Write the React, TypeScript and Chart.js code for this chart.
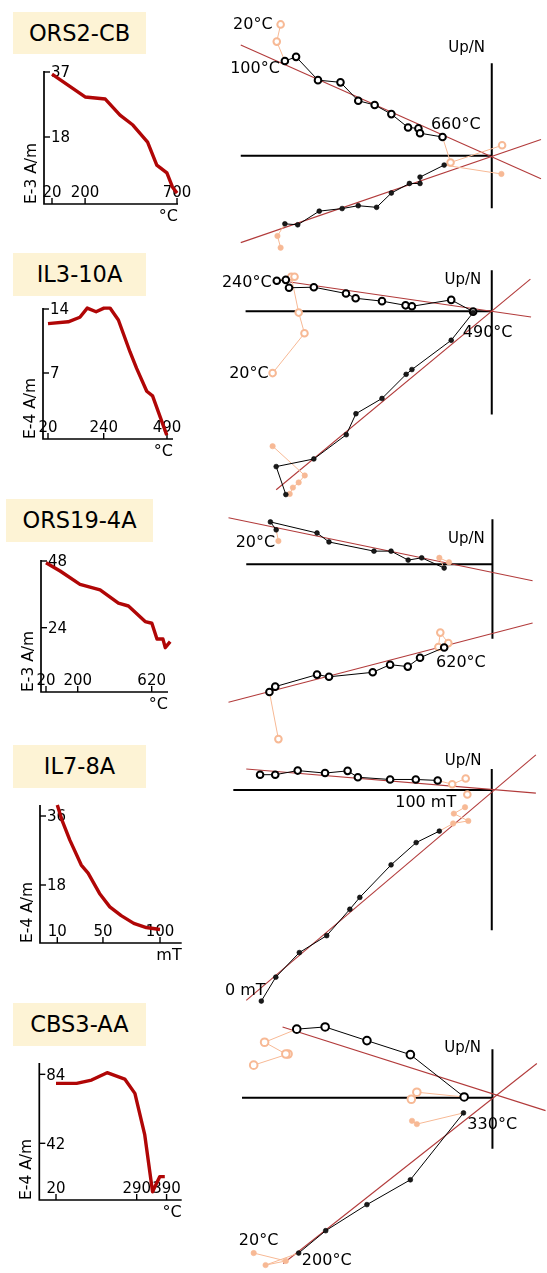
import React, { useEffect, useRef } from "react";
import { Chart, registerables } from "chart.js";

Chart.register(...registerables);

type P = [number, number];
const FONT = '"DejaVu Sans", "Noto Sans", sans-serif';
const CURVE = "#b00606";
const FIT = "#b23b3b";
const ORANGE = "#f7b995";
const INK = "#000";
const BOX_BG = "#fdf3d5";

// ================= Intensity decay data =================
const ors2Steps = [20, 200, 310, 390, 460, 540, 590, 645, 675, 700];
const ors2Intensity = [36.4, 29.7, 29.1, 24.4, 21.5, 16.5, 9.8, 7.5, 3.4, 1.6];
const ors2XTicks = [20, 200, 700];
const ors2YTicks = [18, 37];

const il3Steps = [20, 100, 146, 175, 210, 241, 265, 298, 344, 370, 410, 433, 489];
const il3Intensity = [12.4, 12.6, 13.1, 14.1, 13.7, 14.1, 14.1, 12.8, 9.3, 7.5, 5.0, 4.5, 0.2];
const il3XTicks = [20, 240, 490];
const il3YTicks = [7, 14];

const ors19Steps = [20, 100, 213, 327, 431, 488, 583, 621, 650, 684, 697, 725];
const ors19Intensity = [47.4, 44.4, 39.6, 37.6, 32.8, 31.8, 26.2, 25.6, 19.9, 19.9, 16.8, 19.0];
const ors19XTicks = [20, 200, 620];
const ors19YTicks = [24, 48];

const il7Steps = [10, 14, 21, 31, 37, 47, 56, 66, 77, 88, 100];
const il7Intensity = [38.9, 35.0, 29.7, 23.2, 21.1, 15.8, 12.3, 10.0, 8.0, 6.9, 6.4];
const il7XTicks = [10, 50, 100];
const il7YTicks = [18, 36];

const cbs3Steps = [20, 89, 139, 191, 250, 284, 317, 343, 367, 384];
const cbs3Intensity = [78.5, 78.5, 80.5, 85.0, 81.1, 72.4, 47.1, 12.5, 21.7, 21.7];
const cbs3XTicks = [20, 290, 390];
const cbs3YTicks = [42, 84];

// ================= Zijderveld data (x = N/E component, y = Up/N) =================
// ORS2-CB
const ors2OpenPre: P[] = [[-218.7, 137.7], [-222.7, 119.7]];
const ors2OpenMain: P[] = [[-214.3, 99.3], [-202.7, 103.7], [-180, 79.3], [-156.7, 77], [-138.3, 57.7], [-121.3, 53.3], [-104, 43.7], [-86.7, 29.7], [-76, 28.7], [-74.3, 23.7], [-51, 19.7]];
const ors2OpenPost: P[] = [[-42.7, -7], [10.7, 11]];
const ors2FilledPre: P[] = [[-218.7, -96.3], [-222, -84]];
const ors2FilledMain: P[] = [[-214.3, -71.3], [-201, -72.3], [-178.7, -58], [-155, -55.3], [-138.3, -52.3], [-119.3, -54], [-104, -39], [-85.3, -29], [-74.3, -29], [-74.3, -22.3], [-49.3, -9.7]];
const ors2FilledPost: P[] = [[10, -19]];
const ors2Fits: [P, P][] = [[[-260, 116], [51, -24]], [[-260, -91], [51, 17]]];

// IL3-10A
const il3OpenPre: P[] = [[-227, -64.7], [-194, -23], [-200, -1.3], [-207.7, 36.3], [-204.3, 36.3]];
const il3OpenMain: P[] = [[-222.7, 32], [-213.3, 33], [-210, 24.7], [-184.3, 25.3], [-151, 18.7], [-141, 13.7], [-113.7, 10.7], [-89.3, 6.3], [-82.7, 5.3], [-42, 12], [-19.3, -0.3]];
const il3OpenPost: P[] = [];
const il3FilledPre: P[] = [[-227, -141.3], [-193.7, -172], [-200, -179.3], [-206, -184.7], [-209.3, -191.3]];
const il3FilledMain: P[] = [[-213.3, -192], [-223.3, -162.7], [-184.3, -154.7], [-150.7, -129.3], [-140.7, -107.3], [-113.7, -91.3], [-88.7, -66], [-82.7, -61], [-42, -30.3], [-19.3, -1.3]];
const il3FilledPost: P[] = [];
const il3Fits: [P, P][] = [[[-209.3, 30.7], [40.7, -6]], [[-223.3, -187], [40, 33.7]]];

// ORS19-4A
const ors19OpenPre: P[] = [[-221.7, -183.3]];
const ors19OpenMain: P[] = [[-231, -134], [-225, -128.3], [-181.7, -115.7], [-169.3, -118], [-124, -113.3], [-106, -105.3], [-87.7, -107.3], [-75, -98], [-50, -87.3]];
const ors19OpenPost: P[] = [[-56, -86.7], [-54, -71.7], [-45.7, -82.7]];
const ors19FilledPre: P[] = [[-221.7, 24.3]];
const ors19FilledMain: P[] = [[-224, 36], [-230, 44.3], [-181.7, 32.7], [-169.3, 23.3], [-122.7, 13.7], [-105, 13.7], [-87.3, 4.3], [-73.3, 6.7], [-50, -4]];
const ors19FilledPost: P[] = [[-55, 6.7], [-45, 2]];
const ors19Fits: [P, P][] = [[[-273.4, 48.7], [41.6, -17.3]], [[-273.4, -144.7], [41.6, -61.7]]];

// IL7-8A
const il7OpenPre: P[] = [];
const il7OpenMain: P[] = [[-240, 16], [-224.3, 16], [-201, 20.3], [-172.7, 17.7], [-149.3, 20], [-138.7, 13.3], [-105.3, 11], [-78.7, 11], [-56, 10]];
const il7OpenPost: P[] = [[-41, 6], [-27, 12]];
const il7OpenExtra: P[] = [[-25.3, -4.7]];
const il7FilledPre: P[] = [];
const il7FilledMain: P[] = [[-238.7, -220.7], [-223.7, -195.7], [-199.3, -170], [-171, -152.3], [-147, -124.7], [-136.7, -112.3], [-104.3, -78.3], [-78.3, -55], [-54.3, -43]];
const il7FilledPost: P[] = [[-40, -35], [-24.3, -32.3], [-39.3, -24.7], [-27.7, -18]];
const il7Fits: [P, P][] = [[[-254.3, 22], [45.7, -3.3]], [[-254.3, -220], [45.7, 36.7]]];

// CBS3-AA
const cbs3OpenPre: P[] = [[-247.3, 34], [-211.7, 45.7], [-214, 45.7], [-236, 58]];
const cbs3OpenMain: P[] = [[-202.7, 71.7], [-173.3, 74], [-130, 59.7], [-85, 45], [-29.3, 0.7]];
const cbs3OpenPost: P[] = [[-78.3, 5.7], [-84, -1.7]];
const cbs3FilledPre: P[] = [[-247.3, -162.7], [-214, -171], [-235, -175.3]];
const cbs3FilledMain: P[] = [[-200.7, -162.7], [-172.7, -139.3], [-130, -112], [-85, -86], [-30, -16]];
const cbs3FilledPost: P[] = [[-78.3, -27.7], [-83.3, -24.3]];
const cbs3Fits: [P, P][] = [[[-217.4, 74], [55, -13.6]], [[-216.7, -173.6], [46, 35.7]]];

// ================= Layout =================
const sampleNames = ["ORS2-CB", "IL3-10A", "ORS19-4A", "IL7-8A", "CBS3-AA"];
const boxes = [
  { left: 13, top: 12, width: 133, height: 42 },
  { left: 13, top: 253, width: 133, height: 43 },
  { left: 6, top: 499, width: 147, height: 43 },
  { left: 13, top: 745, width: 133, height: 43 },
  { left: 13, top: 1003, width: 133, height: 43 },
];

interface IntPanel {
  steps: number[]; values: number[]; xTicks: number[]; yTicks: number[];
  axis: { left: number; top: number; right: number; bottom: number };
  xRange: [number, number]; yRange: [number, number]; title: string; unit: string;
}

const intPanels: IntPanel[] = [
  { steps: ors2Steps, values: ors2Intensity, xTicks: ors2XTicks, yTicks: ors2YTicks, axis: { left: 44, top: 71, right: 178, bottom: 204 }, xRange: [-23.5, 705.4], yRange: [-1.58, 37.29], title: "E-3 A/m", unit: "\u00B0C" },
  { steps: il3Steps, values: il3Intensity, xTicks: il3XTicks, yTicks: il3YTicks, axis: { left: 43, top: 308, right: 173, bottom: 439 }, xRange: [0.25, 513.7], yRange: [-0.22, 14.11], title: "E-4 A/m", unit: "\u00B0C" },
  { steps: ors19Steps, values: ors19Intensity, xTicks: ors19XTicks, yTicks: ors19YTicks, axis: { left: 41, top: 560, right: 168, bottom: 692 }, xRange: [-8.4, 712.6], yRange: [0.85, 48.36], title: "E-3 A/m", unit: "\u00B0C" },
  { steps: il7Steps, values: il7Intensity, xTicks: il7XTicks, yTicks: il7YTicks, axis: { left: 40, top: 805, right: 181.7, bottom: 943 }, xRange: [-5.16, 119], yRange: [2.87, 38.87], title: "E-4 A/m", unit: "mT" },
  { steps: cbs3Steps, values: cbs3Intensity, xTicks: cbs3XTicks, yTicks: cbs3YTicks, axis: { left: 39.3, top: 1063, right: 181.7, bottom: 1200 }, xRange: [-35.9, 440.6], yRange: [7.5, 90.9], title: "E-4 A/m", unit: "\u00B0C" },
];

interface ZLabel { text: string; at: P; align: "left" | "right"; size: number }
interface ZijPanel {
  top: number; height: number; origin: P; hAxis: number; vAxis: [number, number];
  fits: [P, P][];
  openPre: P[]; openMain: P[]; openPost: P[]; openExtra?: P[];
  filledPre: P[]; filledMain: P[]; filledPost: P[];
  openR: number; labels: ZLabel[];
}

const C = "\u00B0C";
const zijPanels: ZijPanel[] = [
  {
    top: 0, height: 262, origin: [496, 157], hAxis: -260, vAxis: [97, -55], fits: ors2Fits,
    openPre: ors2OpenPre, openMain: ors2OpenMain, openPost: ors2OpenPost,
    filledPre: ors2FilledPre, filledMain: ors2FilledMain, filledPost: ors2FilledPost, openR: 3.3,
    labels: [
      { text: "20" + C, at: [-268, 138], align: "left", size: 16 },
      { text: "100" + C, at: [-271, 92], align: "left", size: 16 },
      { text: "660" + C, at: [-63, 34], align: "left", size: 16 },
      { text: "Up/N", at: [-45, 114], align: "left", size: 15 },
    ],
  },
  {
    top: 250, height: 262, origin: [496, 308], hAxis: -255, vAxis: [43, -108], fits: il3Fits,
    openPre: il3OpenPre, openMain: il3OpenMain, openPost: il3OpenPost,
    filledPre: il3FilledPre, filledMain: il3FilledMain, filledPost: il3FilledPost, openR: 3.3,
    labels: [
      { text: "240" + C, at: [-228, 31.3], align: "right", size: 16 },
      { text: "20" + C, at: [-272, -64.7], align: "left", size: 16 },
      { text: "490" + C, at: [-30, -22], align: "left", size: 16 },
      { text: "Up/N", at: [-49, 34], align: "left", size: 15 },
    ],
  },
  {
    top: 500, height: 262, origin: [496.7, 561], hAxis: -255, vAxis: [47, -78], fits: ors19Fits,
    openPre: ors19OpenPre, openMain: ors19OpenMain, openPost: ors19OpenPost,
    filledPre: ors19FilledPre, filledMain: ors19FilledMain, filledPost: ors19FilledPost, openR: 3.3,
    labels: [
      { text: "20" + C, at: [-266, 23], align: "left", size: 16 },
      { text: "620" + C, at: [-58.4, -102.3], align: "left", size: 16 },
      { text: "Up/N", at: [-46, 27], align: "left", size: 15 },
    ],
  },
  {
    top: 740, height: 275, origin: [496, 786], hAxis: -267.7, vAxis: [22, -146.7], fits: il7Fits,
    openPre: il7OpenPre, openMain: il7OpenMain, openPost: il7OpenPost, openExtra: il7OpenExtra,
    filledPre: il7FilledPre, filledMain: il7FilledMain, filledPost: il7FilledPost, openR: 3.3,
    labels: [
      { text: "100 mT", at: [-100, -12.3], align: "left", size: 16 },
      { text: "0 mT", at: [-234.3, -209], align: "right", size: 16 },
      { text: "Up/N", at: [-48.7, 31], align: "left", size: 15 },
    ],
  },
  {
    top: 1005, height: 268, origin: [496.7, 1095.7], hAxis: -259.4, vAxis: [50.7, -53.6], fits: cbs3Fits,
    openPre: cbs3OpenPre, openMain: cbs3OpenMain, openPost: cbs3OpenPost,
    filledPre: cbs3FilledPre, filledMain: cbs3FilledMain, filledPost: cbs3FilledPost, openR: 3.8,
    labels: [
      { text: "20" + C, at: [-262.7, -149.3], align: "left", size: 16 },
      { text: "200" + C, at: [-197.4, -169.3], align: "left", size: 16 },
      { text: "330" + C, at: [-26, -27.6], align: "left", size: 16 },
      { text: "Up/N", at: [-50, 53], align: "left", size: 15 },
    ],
  },
];

const INT_W = 200;
const ZIJ_LEFT = 200;
const ZIJ_W = 347;

// ================= Plugins =================
const intensityAxes = {
  id: "intensityAxes",
  beforeDatasetsDraw(chart: any, _a: any, opts: any) {
    const { ctx, chartArea: a, scales } = chart;
    const xs = scales.x, ys = scales.y;
    ctx.save();
    ctx.strokeStyle = INK;
    ctx.fillStyle = INK;
    ctx.lineWidth = 1.7;
    ctx.beginPath();
    ctx.moveTo(a.left, a.top);
    ctx.lineTo(a.left, a.bottom);
    ctx.lineTo(a.right, a.bottom);
    ctx.stroke();
    ctx.lineWidth = 1.4;
    ctx.font = `15px ${FONT}`;
    for (const v of opts.yTicks as number[]) {
      const y = ys.getPixelForValue(v);
      ctx.beginPath();
      ctx.moveTo(a.left, y);
      ctx.lineTo(a.left + 6, y);
      ctx.stroke();
      ctx.textAlign = "left";
      ctx.textBaseline = "middle";
      ctx.fillText(String(v), a.left + 7, y + 1.5);
    }
    for (const v of opts.xTicks as number[]) {
      const x = xs.getPixelForValue(v);
      ctx.beginPath();
      ctx.moveTo(x, a.bottom);
      ctx.lineTo(x, a.bottom - 6);
      ctx.stroke();
      ctx.textAlign = "center";
      ctx.textBaseline = "alphabetic";
      ctx.fillText(String(v), x, a.bottom - 7);
    }
    ctx.font = `16px ${FONT}`;
    ctx.textAlign = "right";
    ctx.textBaseline = "alphabetic";
    ctx.fillText(opts.unit, a.right, a.bottom + 17);
    ctx.translate(a.left - 12, a.bottom);
    ctx.rotate(-Math.PI / 2);
    ctx.font = `15.5px ${FONT}`;
    ctx.textAlign = "left";
    ctx.textBaseline = "middle";
    ctx.fillText(opts.title, 0, 0);
    ctx.restore();
  },
};

const zijDecor = {
  id: "zijDecor",
  beforeDatasetsDraw(chart: any, _a: any, opts: any) {
    const { ctx, scales } = chart;
    const xs = scales.x, ys = scales.y;
    ctx.save();
    ctx.strokeStyle = INK;
    ctx.lineWidth = 2;
    ctx.beginPath();
    ctx.moveTo(xs.getPixelForValue(opts.hAxis), ys.getPixelForValue(0));
    ctx.lineTo(xs.getPixelForValue(0), ys.getPixelForValue(0));
    ctx.moveTo(xs.getPixelForValue(0), ys.getPixelForValue(opts.vAxis[0]));
    ctx.lineTo(xs.getPixelForValue(0), ys.getPixelForValue(opts.vAxis[1]));
    ctx.stroke();
    ctx.restore();
  },
  afterDatasetsDraw(chart: any, _a: any, opts: any) {
    const { ctx, scales } = chart;
    const xs = scales.x, ys = scales.y;
    ctx.save();
    ctx.fillStyle = INK;
    ctx.textBaseline = "middle";
    for (const l of opts.labels as ZLabel[]) {
      ctx.font = `${l.size}px ${FONT}`;
      ctx.textAlign = l.align;
      ctx.fillText(l.text, xs.getPixelForValue(l.at[0]), ys.getPixelForValue(l.at[1]) + 1);
    }
    ctx.restore();
  },
};

// ================= Config builders =================
function intensityConfig(p: IntPanel): any {
  return {
    type: "line",
    data: {
      datasets: [
        {
          data: p.steps.map((s, i) => ({ x: s, y: p.values[i] })),
          borderColor: CURVE,
          borderWidth: 3.4,
          pointRadius: 0,
          tension: 0,
          fill: false,
          clip: false,
          borderJoinStyle: "round",
        },
      ],
    },
    options: {
      animation: false,
      responsive: false,
      events: [],
      layout: { padding: { left: p.axis.left, right: INT_W - p.axis.right, top: 20, bottom: 25 } },
      scales: {
        x: { type: "linear", display: false, min: p.xRange[0], max: p.xRange[1] },
        y: { type: "linear", display: false, min: p.yRange[0], max: p.yRange[1] },
      },
      plugins: {
        legend: { display: false },
        tooltip: { enabled: false },
        intensityAxes: { xTicks: p.xTicks, yTicks: p.yTicks, unit: p.unit, title: p.title },
      },
    },
    plugins: [intensityAxes],
  };
}

const toXY = (pts: P[]) => pts.map(([x, y]) => ({ x, y }));

function seqDatasets(pre: P[], main: P[], post: P[], open: boolean, r: number): any[] {
  const base = (color: string, fill: string) => ({
    showLine: true,
    borderColor: color,
    borderWidth: 1,
    pointBorderColor: color,
    pointBackgroundColor: fill,
    pointBorderWidth: open ? 2 : 0.6,
    pointStyle: "circle",
    clip: false,
    tension: 0,
  });
  const oFill = open ? "#ffffff" : ORANGE;
  const bFill = open ? "#ffffff" : "#1a1a1a";
  const radius = open ? r : 2.4;
  const oRadius = open ? r : 2.7;
  const out: any[] = [];
  if (pre.length) {
    out.push({
      ...base(ORANGE, oFill),
      data: toXY([...pre, main[0]]),
      pointRadius: [...pre.map(() => oRadius), 0],
      order: 2,
    });
  }
  if (post.length) {
    out.push({
      ...base(ORANGE, oFill),
      data: toXY([main[main.length - 1], ...post]),
      pointRadius: [0, ...post.map(() => oRadius)],
      order: 2,
    });
  }
  out.push({ ...base(INK, bFill), data: toXY(main), pointRadius: radius, order: 1 });
  return out;
}

function zijConfig(z: ZijPanel): any {
  const [ox, oy] = z.origin;
  const datasets: any[] = [];
  z.fits.forEach((f) => {
    datasets.push({
      data: toXY(f),
      showLine: true,
      borderColor: FIT,
      borderWidth: 1.1,
      pointRadius: 0,
      clip: false,
      order: 3,
    });
  });
  datasets.push(...seqDatasets(z.filledPre, z.filledMain, z.filledPost, false, z.openR));
  datasets.push(...seqDatasets(z.openPre, z.openMain, z.openPost, true, z.openR));
  if (z.openExtra) {
    datasets.push({
      data: toXY(z.openExtra),
      showLine: false,
      pointRadius: z.openR,
      pointBorderColor: ORANGE,
      pointBackgroundColor: "#ffffff",
      pointBorderWidth: 2,
      clip: false,
      order: 2,
    });
  }
  return {
    type: "scatter",
    data: { datasets },
    options: {
      animation: false,
      responsive: false,
      events: [],
      layout: { padding: 0 },
      scales: {
        x: { type: "linear", display: false, min: ZIJ_LEFT - ox, max: ZIJ_LEFT + ZIJ_W - ox },
        y: { type: "linear", display: false, min: oy - (z.top + z.height), max: oy - z.top },
      },
      plugins: {
        legend: { display: false },
        tooltip: { enabled: false },
        zijDecor: { hAxis: z.hAxis, vAxis: z.vAxis, labels: z.labels },
      },
    },
    plugins: [zijDecor],
  };
}

// ================= Components =================
function ChartCanvas(props: { left: number; top: number; width: number; height: number; make: () => any }) {
  const ref = useRef<HTMLCanvasElement>(null);
  useEffect(() => {
    const chart = new Chart(ref.current as HTMLCanvasElement, props.make());
    return () => chart.destroy();
  }, []);
  return (
    <canvas
      ref={ref}
      width={props.width}
      height={props.height}
      style={{ position: "absolute", left: props.left, top: props.top, width: props.width, height: props.height, display: "block" }}
    />
  );
}

export default function App() {
  useEffect(() => {
    document.body.style.margin = "0";
  }, []);
  return (
    <div style={{ position: "absolute", left: 0, top: 0, width: 547, height: 1273, overflow: "hidden", background: "#fff" }}>
      {boxes.map((b, i) => (
        <div
          key={"b" + i}
          style={{
            position: "absolute",
            left: b.left,
            top: b.top,
            width: b.width,
            height: b.height,
            background: BOX_BG,
            fontFamily: FONT,
            fontSize: 22.5,
            lineHeight: b.height + "px",
            textAlign: "center",
            color: "#000",
          }}
        >
          {sampleNames[i]}
        </div>
      ))}
      {intPanels.map((p, i) => {
        const top = p.axis.top - 20;
        const height = p.axis.bottom - p.axis.top + 45;
        return <ChartCanvas key={"i" + i} left={0} top={top} width={INT_W} height={height} make={() => intensityConfig(p)} />;
      })}
      {zijPanels.map((z, i) => (
        <ChartCanvas key={"z" + i} left={ZIJ_LEFT} top={z.top} width={ZIJ_W} height={z.height} make={() => zijConfig(z)} />
      ))}
    </div>
  );
}
